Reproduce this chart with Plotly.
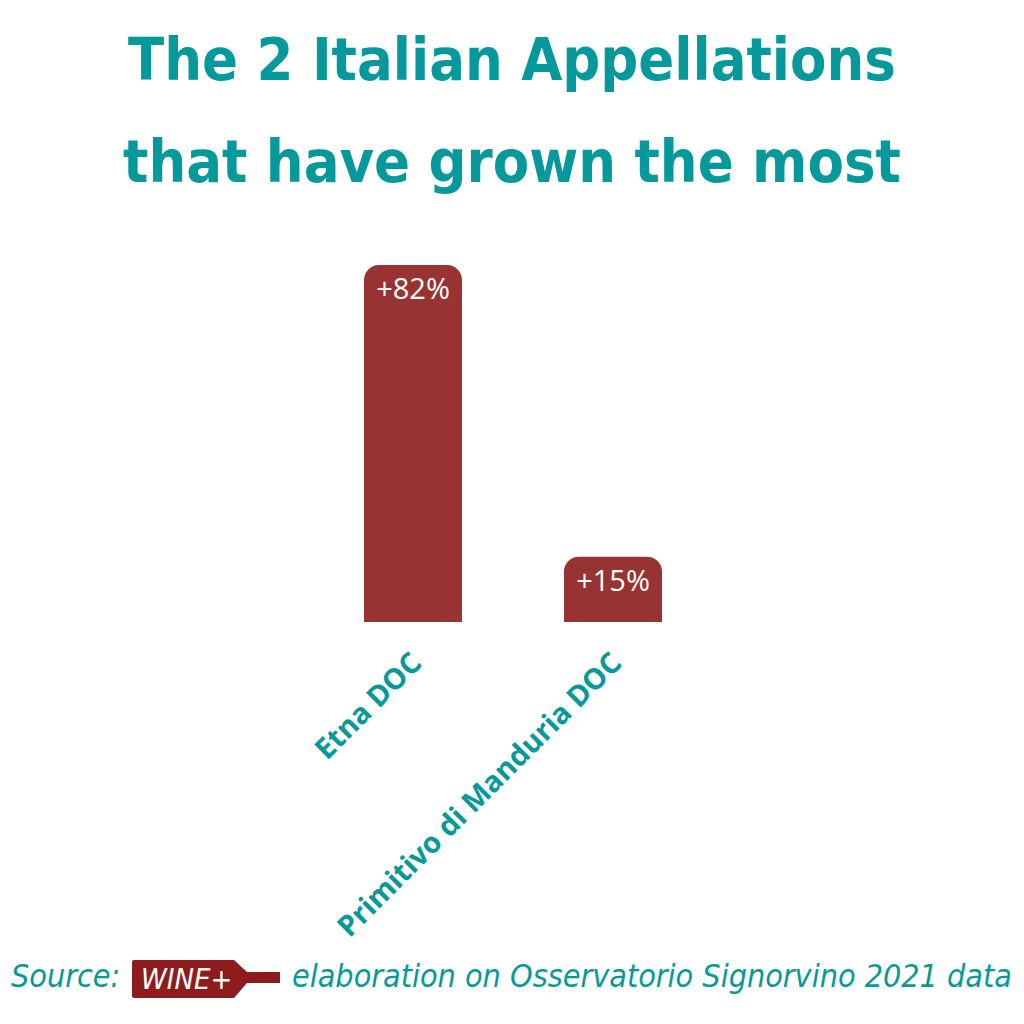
import plotly.graph_objects as go

categories = ["Etna DOC", "Primitivo di Manduria DOC"]
growth = [82, 15]
labels = ["+82%", "+15%"]

W, H = 1024, 1024
OFF = 8  # page body margin
L, T = 362 - 49 - OFF, 265 - OFF
PW, PH = 400, 357
R = W - L - PW
B = H - T - PH

def px(x):
    return (x - OFF - L) / PW

def py(y):
    return (T + PH - (y - OFF)) / PH

TEAL = "#05999b"
RED = "#983334"

fig = go.Figure(go.Bar(
    x=categories, y=growth, text=labels,
    textposition="inside", insidetextanchor="end", textangle=0,
    constraintext="none",
    textfont=dict(family="Open Sans", size=29, color="white"),
    marker=dict(color=RED, cornerradius=15, line=dict(width=0)),
    width=0.49,
))

fig.update_layout(
    width=W, height=H, margin=dict(l=L, r=R, t=T, b=B, autoexpand=False),
    paper_bgcolor="white", plot_bgcolor="white", showlegend=False,
    xaxis=dict(range=[-0.5, 1.5], tickangle=-45, showgrid=False, showline=False,
               zeroline=False, ticks="", ticklabelstandoff=17,
               tickfont=dict(family="Open Sans", size=29, color=TEAL, weight="bold")),
    yaxis=dict(range=[0, 82], visible=False, showgrid=False, zeroline=False),
)

COND = "DejaVu Sans Condensed, Liberation Sans Narrow, Roboto Condensed, sans-serif"
title_font = dict(family=COND, size=59, color=TEAL, weight="bold")
fig.add_annotation(text="The 2 Italian Appellations", x=px(512), y=py(96), xref="paper", yref="paper",
                   xanchor="center", yanchor="bottom", showarrow=False, font=title_font)
fig.add_annotation(text="that have grown the most", x=px(512), y=py(198), xref="paper", yref="paper",
                   xanchor="center", yanchor="bottom", showarrow=False, font=title_font)

foot_font = dict(family=COND, size=32, color=TEAL, style="italic")
fig.add_annotation(text="Source:", x=px(9), y=py(976), xref="paper", yref="paper",
                   xanchor="left", yanchor="middle", showarrow=False, font=foot_font)
fig.add_annotation(text="elaboration on Osservatorio Signorvino 2021 data", x=px(1014), y=py(976),
                   xref="paper", yref="paper", xanchor="right", yanchor="middle",
                   showarrow=False, font=foot_font)

# logo bottle
path = (f"M {px(134)},{py(960)} L {px(234)},{py(960)} L {px(247)},{py(972)} L {px(280)},{py(972)} "
        f"L {px(280)},{py(983)} L {px(247)},{py(983)} L {px(234)},{py(998)} L {px(134)},{py(998)} "
        f"Q {px(132)},{py(998)} {px(132)},{py(996)} L {px(132)},{py(962)} Q {px(132)},{py(960)} {px(134)},{py(960)} Z")
fig.add_shape(type="path", path=path, xref="paper", yref="paper",
              fillcolor="#8e1c1f", line=dict(width=0))
fig.add_annotation(text="WINE+", x=px(186), y=py(979), xref="paper", yref="paper",
                   xanchor="center", yanchor="middle", showarrow=False,
                   font=dict(family=COND, size=29, color="white", style="italic"))

fig.write_html("out.html")
